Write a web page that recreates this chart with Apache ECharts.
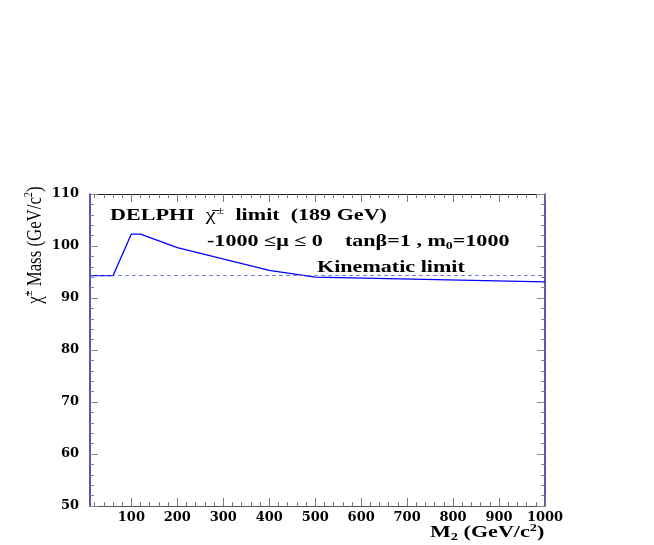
<!DOCTYPE html>
<html>
<head>
<meta charset="utf-8">
<script src="https://cdn.jsdelivr.net/npm/echarts@6/dist/echarts.min.js"></script>
<style>
    html, body { margin: 0; padding: 0; background: #fff; }
    #chart { width: 654px; height: 545px; }
</style>
</head>
<body>
<div id="chart"></div>
<script>
    // chargino mass limit vs M2
    let m2Values = [10, 60, 100, 120, 200, 400, 500, 1000];
    let massLimit = [94.3, 94.3, 102.3, 102.3, 99.7, 95.3, 94.0, 93.1];
    let kinematicLimit = 94.3;

    let xMajor = [100, 200, 300, 400, 500, 600, 700, 800, 900, 1000];
    let xMinor = [];
    for (let v = 20; v < 1000; v += 20) {
        if (v % 100 !== 0) xMinor.push(v);
    }

    let serif = '"Liberation Serif", "DejaVu Serif", serif';
    let tickFont = '"DejaVu Serif", serif';
    let chart = echarts.init(document.getElementById('chart'));

    let lineData = [];
    m2Values.forEach((x, i) => {
        lineData.push([x, massLimit[i]]);
    });

    function xAx(pos, ticks, len, labels, lineColor) {
        return {
            type: 'value',
            position: pos,
            min: 10,
            max: 1000,
            axisLine: { show: lineColor != null, onZero: false, lineStyle: { color: lineColor || '#000', width: 1 } },
            axisTick: { show: true, inside: true, length: len, customValues: ticks, lineStyle: { color: '#777' } },
            axisLabel: labels ? {
                show: true, customValues: xMajor, margin: 5,
                formatter: v => String(v),
                fontFamily: tickFont, fontWeight: 'bold', fontSize: 13, color: '#000'
            } : { show: false },
            splitLine: { show: false }
        };
    }

    function yAx(pos, labels, lineColor) {
        return {
            type: 'value',
            position: pos,
            min: 50,
            max: 110,
            interval: 10,
            axisLine: { show: true, onZero: false, lineStyle: { color: lineColor, width: 1.5 } },
            axisTick: { show: true, inside: true, length: 8, lineStyle: { color: '#888' } },
            minorTick: { show: true, splitNumber: 5, length: 4, lineStyle: { color: '#888' } },
            axisLabel: labels ? {
                show: true, margin: 11,
                fontFamily: tickFont, fontWeight: 'bold', fontSize: 13, color: '#000'
            } : { show: false },
            splitLine: { show: false }
        };
    }

    // text in the reference is a wide Times, so stretch it a bit
    function label(x, y, text, size, rich, sx) {
        return {
            type: 'text', x: x, y: y, scaleX: sx || 1.38,
            style: {
                text: text, font: 'bold ' + size + 'px ' + serif, fill: '#000',
                align: 'left', verticalAlign: 'middle', rich: rich || {}
            }
        };
    }

    let option = {
        animation: false,
        backgroundColor: '#fff',
        grid: { left: 90, top: 194, width: 455, height: 312, containLabel: false },
        xAxis: [
            xAx('bottom', xMajor, 8, true, '#555'),
            xAx('bottom', xMinor, 4, false, null),
            xAx('top', xMajor, 8, false, '#222'),
            xAx('top', xMinor, 4, false, null)
        ],
        yAxis: [
            yAx('left', true, '#2020a0'),
            yAx('right', false, '#2020a0')
        ],
        series: [{
            type: 'line',
            xAxisIndex: 0,
            yAxisIndex: 0,
            data: lineData,
            symbol: 'none',
            lineStyle: { color: '#0000ff', width: 1.3 },
            markLine: {
                silent: true,
                symbol: 'none',
                label: { show: false },
                lineStyle: { color: '#5560d0', type: [4, 3], width: 0.8 },
                data: [{ yAxis: kinematicLimit }]
            }
        }],
        graphic: [
            label(110, 216, 'DELPHI  {s|χ̄}{sup|±}  limit  (189 GeV)', 16, {
                s: { font: '16px ' + serif, fill: '#000' },
                sup: { font: '10px ' + serif, fill: '#000', padding: [0, 0, 10, 1] }
            }),
            label(207, 242, '-1000 ≤μ ≤ 0    tanβ=1 , m{sub|0}=1000', 16, {
                sub: { font: 'bold 10px ' + serif, fill: '#000', padding: [8, 0, 0, 0] }
            }),
            label(317, 268, 'Kinematic limit', 16),
            {
                // y title, tall glyphs squeezed along the text direction
                type: 'text', x: 35, y: 245, rotation: Math.PI / 2, scaleX: 0.8,
                style: {
                    text: 'χ̃{sup|±} Mass (GeV/c{sup|2})',
                    font: '21px ' + serif, fill: '#000',
                    align: 'center', verticalAlign: 'middle',
                    rich: {
                        sup: { font: '13px ' + serif, fill: '#000', padding: [0, 0, 12, 0] }
                    }
                }
            },
            label(430, 533, 'M{sub|2} (GeV/c{sup|2})', 17, {
                sub: { font: 'bold 11px ' + serif, fill: '#000', padding: [8, 0, 0, 0] },
                sup: { font: 'bold 11px ' + serif, fill: '#000', padding: [0, 0, 10, 0] }
            }, 1.3)
        ]
    };

    chart.setOption(option);
</script>
</body>
</html>
